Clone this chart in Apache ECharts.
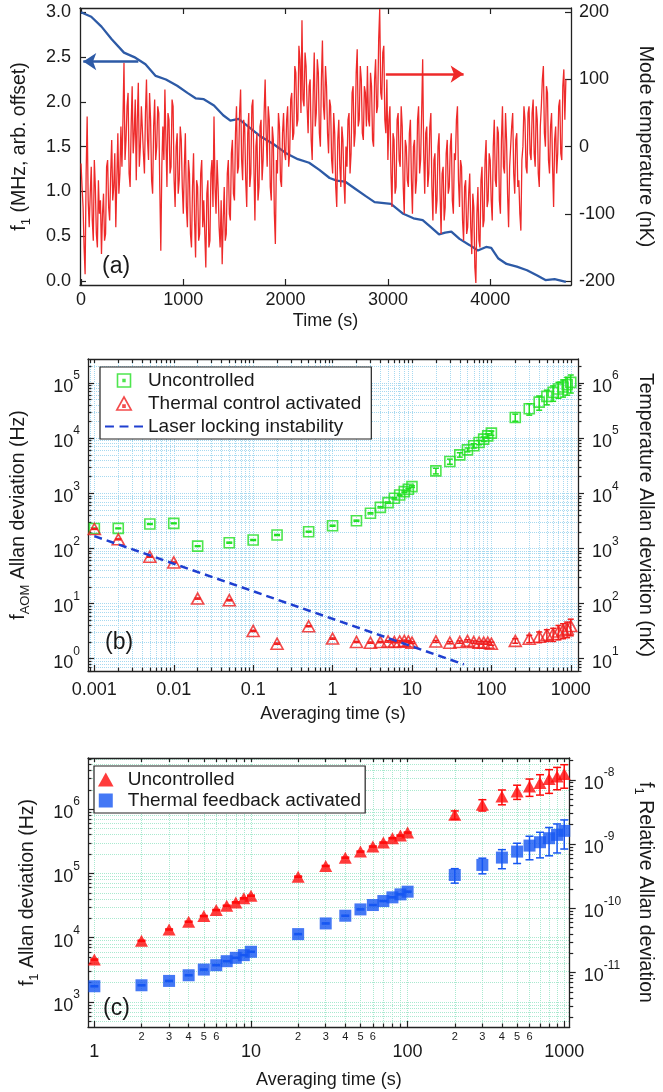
<!DOCTYPE html>
<html>
<head>
<meta charset="utf-8">
<title>Allan deviation</title>
<style>
  html,body{margin:0;padding:0;background:#fff;}
</style>
</head>
<body>
<div id="main" style="width:663px;height:1092px;"></div>
<script src="https://cdn.jsdelivr.net/npm/echarts@6/dist/echarts.min.js"></script>
<script>
// ---------- panel (a): time traces ----------
var fTime = [0,100,200,300,420,520,630,730,830,940,1040,1120,1200,1300,1390,1460,1540,1630,1760,1880,
  2000,2120,2230,2330,2430,2500,2580,2680,2780,2870,3030,3150,3250,3340,3420,3500,3560,3620,3700,3800,
  3880,3960,4010,4080,4160,4260,4360,4460,4540,4630,4740];
var fVal = [3.0,2.95,2.84,2.70,2.55,2.50,2.42,2.29,2.25,2.18,2.10,2.04,2.03,1.96,1.85,1.79,1.81,1.73,1.61,1.53,
  1.43,1.36,1.32,1.24,1.15,1.12,1.11,1.03,0.95,0.88,0.86,0.75,0.70,0.68,0.60,0.52,0.54,0.55,0.47,0.40,
  0.34,0.38,0.37,0.25,0.19,0.16,0.12,0.06,0.01,0.02,-0.01];
var tempStep = 10; // s between temperature samples
var tempVal = [
  -25,-60,-90,-150,-190,-40,45,-80,-120,-70,-30,-110,-140,-20,-60,-130,-150,-50,-100,-80,
  -160,-100,-70,-140,-130,-30,-20,-90,-110,-40,10,-80,-60,-10,-120,-50,20,-70,-40,30,
  -30,40,125,-20,10,60,80,-40,-60,30,90,-10,20,70,-50,40,95,-30,0,60,
  60,-10,-40,50,100,10,-20,80,40,-50,-70,30,70,-20,0,60,50,-60,-155,-30,
  30,-20,85,10,-60,50,40,-40,-30,70,60,-50,-90,0,20,-70,-50,30,10,-60,
  -100,-30,20,-90,-120,-20,-40,-130,-150,-60,-10,-110,-165,-50,-60,-140,-130,-40,-20,-120,
  -80,-130,-180,-70,-50,-150,-140,-40,-20,-90,45,-60,-100,-20,-60,-120,-150,-80,-175,-110,
  -60,-140,-130,-40,-20,-100,-110,-10,10,-70,-80,20,60,-40,-30,50,85,-20,-50,40,
  30,-50,-90,20,50,-60,-40,60,70,-30,-110,0,20,-80,-60,30,40,-50,-20,50,
  100,20,-30,60,40,-60,-80,30,10,-100,-145,-20,-40,50,30,-50,-60,20,50,-10,
  -20,40,60,-30,-10,70,80,10,20,120,110,30,40,150,130,50,188,70,60,140,
  120,60,20,90,100,10,-20,80,140,30,50,130,110,20,0,100,158,60,40,120,
  90,20,-10,70,60,-20,-40,50,20,-60,-90,10,40,-30,-60,30,10,-50,-85,0,
  -30,40,50,-40,-10,80,90,0,20,110,145,30,40,120,100,20,10,90,80,30,
  120,40,30,110,90,10,0,100,130,50,60,160,205,80,70,140,150,40,20,100,
  -20,40,60,-40,-90,20,10,-70,-60,40,50,-20,-30,60,30,-60,-100,10,0,-50,
  -60,20,40,-50,-100,0,10,-70,-50,40,60,-40,-20,50,130,-10,-70,20,30,-60,
  -40,30,50,-60,-110,-20,-10,-100,-80,0,20,-70,-130,-40,-30,-110,-90,-10,10,-70,
  -60,0,20,-80,-100,-10,-20,40,60,-50,-90,-20,-30,-110,-140,-60,-50,-130,-120,-70,
  -40,-120,-160,-70,-90,-180,-203,-100,-60,-140,-150,-50,-30,-120,-110,-20,10,-90,-80,-10,
  -20,-80,-110,0,40,-50,-60,30,20,-80,-100,10,60,-30,-40,50,10,-70,-120,-30,
  -30,30,50,-40,-70,10,20,-60,-50,-100,-125,-20,0,60,40,-30,-40,50,60,-10,
  -20,50,70,-10,-30,60,40,-40,-60,30,60,100,120,20,0,90,80,-20,-40,30,
  50,-30,-90,10,30,-40,-10,60,70,-10,-20,90,115,40,100];
var blueArrow = [[560, 2.45], [22, 2.45]];
var redArrow = [[2980, 108], [3740, 108]];

// ---------- panel (b): Allan deviation of f_AOM ----------
var tauB = [0.001,0.002,0.005,0.01,0.02,0.05,0.1,0.2,0.5,1,2,3,4,5,6,7,8,9,10,
  20,30,40,50,60,70,80,90,100,200,300,400,500,600,700,800,900,1000];
var uncB = [230,231,277,285,110,127,142,175,201,258,318,433,556,676,811,933,1072,1183,1321,
  2545,3765,4980,6140,7260,8340,9590,11020,12320,23770,34140,45140,57240,67610,77820,84590,93250,102900];
var uncBErr = [4,4,5,5,2,3,3,4,4,6,8,12,15,20,25,30,35,40,45,
  300,400,450,500,650,750,900,1000,1100,3500,8000,13000,17000,21000,25000,29000,33000,37000];
var ctrlB = [225,146,70.5,55.6,12.3,11.5,3.18,1.87,3.87,2.31,2.01,1.95,2.0,2.05,2.0,2.05,2.1,2.05,1.95,
  2.05,1.95,2.0,2.1,2.0,1.95,1.95,1.95,1.87,2.1,2.3,2.5,2.7,2.8,3.1,3.3,3.5,3.9];
var ctrlBErr = [4,3,1.5,1.2,0.3,0.3,0.08,0.05,0.08,0.06,0.05,0.05,0.05,0.06,0.06,0.06,0.07,0.07,0.07,
  0.08,0.09,0.1,0.1,0.1,0.11,0.12,0.12,0.12,0.2,0.35,0.55,0.65,0.75,0.9,1.0,1.1,1.3];
var laserTau = [0.001, 45];
var laserVal = [167, 0.787];

// ---------- panel (c): Allan deviation of f1 ----------
var tauC = [1,2,3,4,5,6,7,8,9,10,20,30,40,50,60,70,80,90,100,200,300,400,500,600,700,800,900,1000];
var uncC = [4570,8940,13400,17700,21700,26900,31400,35400,40900,45000,
  89100,130600,176000,218600,261800,302000,353000,388000,432000,
  816000,1169000,1578000,1888000,2260000,2546000,2940000,3234000,3517000];
var uncCErr = [90,180,270,350,430,540,630,710,820,900,
  1800,2600,3500,4400,5200,6000,7000,7800,8600,
  122000,234000,410000,470000,680000,890000,1180000,1230000,1400000];
var fbC = [1754,1817,2124,2602,3190,3730,4306,4857,5350,6030,
  11360,16660,21950,27540,32200,37150,42400,47200,51970,
  94600,135500,176300,218600,271000,305600,353000,398000,459600];
var fbCErr = [35,36,42,52,64,75,86,97,107,121,
  230,330,440,550,640,740,850,940,1040,
  24000,37000,58000,76000,108000,131000,165000,190000,220000];

var FONT = '"Liberation Sans", Arial, sans-serif';
var INK = '#1a1a1a';

function merge(a, b) {
  var o = JSON.parse(JSON.stringify(a));
  for (var k in b) {
    if (b[k] && typeof b[k] === 'object' && !Array.isArray(b[k]) && o[k] && typeof o[k] === 'object') o[k] = merge(o[k], b[k]);
    else o[k] = b[k];
  }
  return o;
}
function zip(x, y) { return x.map(function (v, i) { return [v, y[i]]; }); }
function decadeTicks(lo, hi) {
  var out = [];
  for (var n = Math.floor(Math.log10(lo)); n <= Math.ceil(Math.log10(hi)); n++) {
    var v = Math.pow(10, n);
    if (v >= lo && v <= hi) out.push(v);
  }
  return out;
}
function minorTicks(lo, hi, ks) {
  var out = [];
  ks = ks || [2,3,4,5,6,7,8,9];
  for (var n = Math.floor(Math.log10(lo)); n <= Math.ceil(Math.log10(hi)); n++) {
    ks.forEach(function (k) {
      var v = k * Math.pow(10, n);
      if (v >= lo && v <= hi) out.push(v);
    });
  }
  return out;
}
function pow10Label(v) {
  var n = Math.round(Math.log10(v));
  return '{b|10}{s|' + n + '}';
}
var powRich = {
  b: {fontSize: 18, fontFamily: FONT, color: INK, lineHeight: 26, verticalAlign: 'bottom'},
  s: {fontSize: 12, fontFamily: FONT, color: INK, lineHeight: 14, verticalAlign: 'top'}
};

var base = {
  axisLine: {show: true, onZero: false, lineStyle: {color: '#222', width: 1.3}},
  axisTick: {show: true, inside: true, length: 6, lineStyle: {color: '#222', width: 1.2}},
  axisLabel: {color: INK, fontSize: 18, fontFamily: FONT},
  splitLine: {show: false},
  nameTextStyle: {color: INK, fontSize: 18, fontFamily: FONT},
  silent: true
};
var VNAME = 19.5; // vertical axis titles

// log panel ranges
var bx = [Math.pow(10, -3.08), Math.pow(10, 3.091)];
var by = [Math.pow(10, -0.224), Math.pow(10, 5.436)];
var byR = [by[0] * 10, by[1] * 10];
var cx = [Math.pow(10, -0.0405), Math.pow(10, 3.035)];
var cy = [Math.pow(10, 2.610), Math.pow(10, 6.796)];
var cyR = [Math.pow(10, -11.848), Math.pow(10, -7.661)];

function logAxes(dim, grid, ext, opt) {
  var majors = decadeTicks(ext[0], ext[1]);
  var mins = minorTicks(ext[0], ext[1]);
  var major = merge(base, {
    type: 'log', logBase: 10, gridIndex: grid, min: ext[0], max: ext[1], position: opt.position,
    axisTick: {customValues: majors, inside: opt.inside, length: 6},
    axisLabel: {customValues: majors, formatter: opt.formatter, rich: opt.rich, margin: opt.margin},
    splitLine: {show: true, lineStyle: {color: opt.grid, type: 'dotted', width: 1}}
  });
  if (opt.name) {
    major.name = opt.name; major.nameLocation = 'middle'; major.nameGap = opt.nameGap;
    if (opt.nameRotate !== undefined) major.nameRotate = opt.nameRotate;
    if (dim === 'y') major.nameTextStyle.fontSize = VNAME;
    major.nameTextStyle.rich = opt.nameRich;
  }
  if (!opt.grid) major.splitLine.show = false;
  var minor = merge(base, {
    type: 'log', logBase: 10, gridIndex: grid, min: ext[0], max: ext[1], position: opt.position,
    axisLine: {show: false},
    axisTick: {customValues: mins, inside: opt.inside, length: 3.5},
    axisLabel: {show: false},
    splitLine: {show: !!opt.grid, lineStyle: {color: opt.grid, type: 'dotted', width: 1}}
  });
  if (opt.minorLabels) {
    minor.axisLabel = {show: true, customValues: opt.minorLabels, fontSize: 11, fontFamily: FONT, color: INK, margin: 4,
      formatter: function (v) { return String(Math.round(v / Math.pow(10, Math.floor(Math.log10(v) + 1e-9)))); }};
  }
  return [major, minor];
}

var GRID_B = '#a6d9f0';
var GRID_C = '#a9e9cf';
function decLabel(v) {
  var n = Math.round(Math.log10(v));
  return n < 0 ? Math.pow(10, n).toFixed(-n) : String(Math.pow(10, n));
}
function plainPow(v) { return String(Math.round(v)); }

var bX = logAxes('x', 1, bx, {position: 'bottom', inside: true, formatter: decLabel, margin: 10, grid: GRID_B,
  name: 'Averaging time (s)', nameGap: 34});
var bXtop = merge(base, {type: 'log', gridIndex: 1, min: bx[0], max: bx[1], position: 'top',
  axisTick: {customValues: decadeTicks(bx[0], bx[1]).concat(minorTicks(bx[0], bx[1])), length: 4},
  axisLabel: {show: false}});
var cX = logAxes('x', 2, cx, {position: 'bottom', inside: true, formatter: plainPow, margin: 16, grid: GRID_C,
  name: 'Averaging time (s)', nameGap: 44, minorLabels: minorTicks(cx[0], cx[1], [2,3,4,5,6])});
var cXtop = merge(base, {type: 'log', gridIndex: 2, min: cx[0], max: cx[1], position: 'top',
  axisTick: {customValues: decadeTicks(cx[0], cx[1]).concat(minorTicks(cx[0], cx[1])), length: 4},
  axisLabel: {show: false}});

var nameRich = {
  n: {fontSize: VNAME, fontFamily: FONT, color: INK, lineHeight: 23, verticalAlign: 'top'},
  sub: {fontSize: 13, fontFamily: FONT, color: INK, lineHeight: 23, verticalAlign: 'bottom'}
};
var bY = logAxes('y', 1, by, {position: 'left', inside: true, formatter: pow10Label, rich: powRich, margin: 8, grid: GRID_B,
  name: '{n|f}{sub|AOM}{n| Allan deviation (Hz)}', nameGap: 56, nameRich: nameRich});
var bYR = logAxes('y', 1, byR, {position: 'right', inside: false, formatter: pow10Label, rich: powRich, margin: 14,
  name: 'Temperature Allan deviation (nK)', nameGap: 57, nameRotate: -90, nameRich: nameRich});
var cY = logAxes('y', 2, cy, {position: 'left', inside: true, formatter: pow10Label, rich: powRich, margin: 8, grid: GRID_C,
  name: '{n|f}{sub|1}{n| Allan deviation (Hz)}', nameGap: 47, nameRich: nameRich});
var cYR = logAxes('y', 2, cyR, {position: 'right', inside: false, formatter: pow10Label, rich: powRich, margin: 14,
  name: '{n|f}{sub|1}{n| Relative Allan deviation}', nameGap: 59, nameRotate: -90, nameRich: nameRich});

var aX = merge(base, {type: 'value', gridIndex: 0, min: -10, max: 4790, position: 'bottom',
  axisTick: {customValues: [0,1000,2000,3000,4000]},
  axisLabel: {customValues: [0,1000,2000,3000,4000], margin: 6, formatter: function (v) { return String(v); }},
  name: 'Time (s)', nameLocation: 'middle', nameGap: 27});
var aXtop = merge(base, {type: 'value', gridIndex: 0, min: -10, max: 4790, position: 'top',
  axisTick: {customValues: [0,1000,2000,3000,4000]}, axisLabel: {show: false}});
var aY = merge(base, {type: 'value', gridIndex: 0, min: -0.045, max: 3.048, position: 'left',
  axisTick: {customValues: [0,0.5,1,1.5,2,2.5,3]},
  axisLabel: {customValues: [0,0.5,1,1.5,2,2.5,3], margin: 9, formatter: function (v) { return v.toFixed(1); }},
  name: '{n|f}{sub|1}{n| (MHz, arb. offset)}', nameLocation: 'middle', nameGap: 47,
  nameTextStyle: {fontSize: VNAME, rich: nameRich}});
var aYR = merge(base, {type: 'value', gridIndex: 0, min: -206, max: 206.4, position: 'right',
  axisTick: {customValues: [-200,-100,0,100,200]},
  axisLabel: {customValues: [-200,-100,0,100,200], margin: 8},
  name: 'Mode temperature (nK)', nameLocation: 'middle', nameGap: 64, nameRotate: -90,
  nameTextStyle: {fontSize: VNAME}});

function errorBars(x, y, e, color, xi, yi, cap) {
  return {
    type: 'custom', xAxisIndex: xi, yAxisIndex: yi, silent: true, z: 3,
    data: x.map(function (t, i) { return [t, y[i] - e[i], y[i] + e[i]]; }),
    encode: {x: 0, y: [1, 2]},
    renderItem: function (params, api) {
      var lo = api.coord([api.value(0), api.value(1)]);
      var hi = api.coord([api.value(0), api.value(2)]);
      var w = cap / 2;
      var st = {stroke: color, lineWidth: 1.5, fill: null};
      return {type: 'group', children: [
        {type: 'line', shape: {x1: lo[0], y1: lo[1], x2: hi[0], y2: hi[1]}, style: st},
        {type: 'line', shape: {x1: lo[0] - w, y1: lo[1], x2: lo[0] + w, y2: lo[1]}, style: st},
        {type: 'line', shape: {x1: hi[0] - w, y1: hi[1], x2: hi[0] + w, y2: hi[1]}, style: st}
      ]};
    }
  };
}

var GREEN = '#22e022', RED_B = '#f01e1e', BLUE_D = '#1f3fd0';
var RED_C = '#ff0a0a', BLUE_C = '#1556f2';
var sqDot = 'path://M0,0L10,0L10,10L0,10Z M4.3,4.3L5.7,4.3L5.7,5.7L4.3,5.7Z';
var triDot = 'path://M5,0L10,9L0,9Z M4.3,5.6L5.7,5.6L5.7,7L4.3,7Z';
var dashIcon = 'path://M0,0L8,0L8,2L0,2Z M13,0L21,0L21,2L13,2Z M26,0L34,0L34,2L26,2Z';
var triIcon = 'path://M5,0L10,9L0,9Z';
var sqIcon = 'path://M0,0L10,0L10,10L0,10Z';

var option = {
  backgroundColor: '#fff',
  animation: false,
  grid: [
    {left: 80, top: 8, width: 492, height: 277},
    {left: 88, top: 359, width: 490, height: 312},
    {left: 88, top: 758, width: 484, height: 269}
  ],
  title: [
    {text: '(a)', left: 102, top: 255, padding: 0, textStyle: {fontSize: 23, fontWeight: 'normal', fontFamily: FONT, color: INK}},
    {text: '(b)', left: 105, top: 631, padding: 0, textStyle: {fontSize: 23, fontWeight: 'normal', fontFamily: FONT, color: INK}},
    {text: '(c)', left: 103, top: 997, padding: 0, textStyle: {fontSize: 23, fontWeight: 'normal', fontFamily: FONT, color: INK}}
  ],
  legend: [
    {orient: 'vertical', left: 100, top: 367, selectedMode: false, backgroundColor: '#fff',
      borderColor: '#222', borderWidth: 1.2, padding: [4, 10, 3, 5], itemWidth: 38, itemHeight: 13, itemGap: 4,
      textStyle: {fontSize: 19, color: INK, fontFamily: FONT},
      data: [
        {name: 'Uncontrolled', icon: sqDot, itemStyle: {color: 'transparent', borderColor: GREEN, borderWidth: 1.6}},
        {name: 'Thermal control activated', icon: triDot, itemStyle: {color: 'transparent', borderColor: RED_B, borderWidth: 1.6}},
        {name: 'Laser locking instability', icon: dashIcon, itemStyle: {color: BLUE_D, borderWidth: 0}}
      ]},
    {orient: 'vertical', left: 94, top: 766, selectedMode: false, backgroundColor: '#fff',
      borderColor: '#222', borderWidth: 1.2, padding: [4, 4, 3, 4], itemWidth: 34, itemHeight: 14, itemGap: 2,
      textStyle: {fontSize: 19, color: INK, fontFamily: FONT},
      data: [
        {name: 'Uncontrolled', icon: triIcon, itemStyle: {color: RED_C, borderWidth: 0}},
        {name: 'Thermal feedback activated', icon: sqIcon, itemStyle: {color: BLUE_C, borderWidth: 0}}
      ]}
  ],
  xAxis: [aX, aXtop, bX[0], bX[1], bXtop, cX[0], cX[1], cXtop],
  yAxis: [aY, aYR, bY[0], bY[1], bYR[0], bYR[1], cY[0], cY[1], cYR[0], cYR[1]],
  series: [
    {name: 'f1', type: 'line', xAxisIndex: 0, yAxisIndex: 0, data: zip(fTime, fVal), showSymbol: false, z: 2,
      lineStyle: {color: '#2d5aa6', width: 2.3}, itemStyle: {color: '#2d5aa6'},
      markLine: {silent: true, symbol: ['none', 'arrow'], symbolSize: 13, label: {show: false},
        lineStyle: {color: '#2d5aa6', width: 2.5, type: 'solid'},
        data: [[{coord: blueArrow[0]}, {coord: blueArrow[1]}]]}},
    {name: 'Mode temperature', type: 'line', xAxisIndex: 0, yAxisIndex: 1, showSymbol: false, z: 3,
      data: tempVal.map(function (v, i) { return [i * tempStep, v]; }),
      lineStyle: {color: '#ee2a2a', width: 1.3}, itemStyle: {color: '#ee2a2a'},
      markLine: {silent: true, symbol: ['none', 'arrow'], symbolSize: 13, label: {show: false},
        lineStyle: {color: '#ee2a2a', width: 2.5, type: 'solid'},
        data: [[{coord: redArrow[0]}, {coord: redArrow[1]}]]}},

    errorBars(tauB, uncB, uncBErr, GREEN, 2, 2, 6),
    {name: 'Uncontrolled', type: 'scatter', xAxisIndex: 2, yAxisIndex: 2, data: zip(tauB, uncB), z: 4,
      symbol: 'rect', symbolSize: 10, itemStyle: {color: 'transparent', borderColor: GREEN, borderWidth: 1.6}},
    errorBars(tauB, ctrlB, ctrlBErr, RED_B, 2, 2, 6),
    {name: 'Thermal control activated', type: 'scatter', xAxisIndex: 2, yAxisIndex: 2, data: zip(tauB, ctrlB), z: 4,
      symbol: 'triangle', symbolSize: [12, 11], itemStyle: {color: 'transparent', borderColor: RED_B, borderWidth: 1.6}},
    {name: 'Laser locking instability', type: 'line', xAxisIndex: 2, yAxisIndex: 2, data: zip(laserTau, laserVal),
      symbol: 'none', z: 5, lineStyle: {color: BLUE_D, width: 2.5, type: [8, 5]}, itemStyle: {color: BLUE_D}},

    errorBars(tauC, uncC, uncCErr, RED_C, 5, 6, 8),
    {name: 'Uncontrolled', type: 'scatter', xAxisIndex: 5, yAxisIndex: 6, data: zip(tauC, uncC), z: 4,
      symbol: 'triangle', symbolSize: [13, 12], itemStyle: {color: RED_C}},
    errorBars(tauC, fbC, fbCErr, BLUE_C, 5, 6, 8),
    {name: 'Thermal feedback activated', type: 'scatter', xAxisIndex: 5, yAxisIndex: 6, data: zip(tauC, fbC), z: 4,
      symbol: 'rect', symbolSize: 12, itemStyle: {color: BLUE_C}}
  ]
};

var chart = echarts.init(document.getElementById('main'));
chart.setOption(option);
</script>
</body>
</html>
